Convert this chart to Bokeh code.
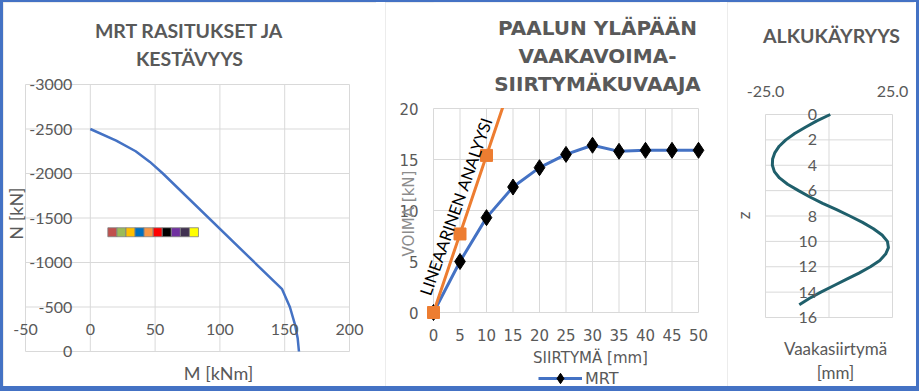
from bokeh.plotting import figure
from bokeh.layouts import row
from bokeh.models import (Range1d, FixedTicker, Label, Legend, LegendItem,
                          LinearAxis, BoxAnnotation)
from bokeh.embed import file_html
from bokeh.resources import INLINE

# ---------------- data ----------------
# Panel 1: MRT rasitukset ja kestävyys
m_curve = [0, 20, 35, 46, 56, 148, 154, 158, 160, 161]
n_curve = [-2500, -2370, -2250, -2130, -2000, -700, -500, -300, -150, 0]
load_m = [17, 24, 31, 38, 45, 52, 59, 66, 73, 80]
load_n = [-1340, -1340, -1340, -1340, -1340, -1340, -1340, -1340, -1340, -1340]
load_colors = ["#c0504d", "#9bbb59", "#ffc000", "#0070c0", "#f79646",
               "#ff0000", "#000000", "#7030a0", "#403151", "#ffff00"]
m_ticks = [-50, 0, 50, 100, 150, 200]
m_labels = ["-50", "0", "50", "100", "150", "200"]
n_ticks = [-3000, -2500, -2000, -1500, -1000, -500, 0]
n_labels = ["-3000", "-2500", "-2000", "-1500", "-1000", "-500", "0"]

# Panel 2: vaakavoima-siirtymä
disp_mrt = [0, 5, 10, 15, 20, 25, 30, 35, 40, 45, 50]
force_mrt = [0, 5.0, 9.3, 12.3, 14.2, 15.5, 16.4, 15.8, 15.9, 15.9, 15.9]
disp_lin = [0, 5, 10, 15]
force_lin = [0, 7.7, 15.4, 23.1]
s_ticks = [0, 5, 10, 15, 20, 25, 30, 35, 40, 45, 50]
s_labels = ["0", "5", "10", "15", "20", "25", "30", "35", "40", "45", "50"]
f_ticks = [0, 5, 10, 15, 20]
f_labels = ["0", "5", "10", "15", "20"]

# Panel 3: alkukäyryys
depth = [0, 0.5, 1, 1.5, 2, 2.5, 3, 3.5, 4, 4.5, 5, 5.5, 6, 6.5, 7, 7.5,
         8, 8.5, 9, 9.5, 10, 10.5, 11, 11.5, 12, 12.5, 13, 13.5, 14, 14.5, 15]
dev = [0.5, -4.8, -9.3, -13.5, -17.0, -19.6, -21.3, -22.2, -22.3, -21.5, -19.5,
       -16.3, -12.0, -7.5, -2.5, 3.0, 8.2, 13.2, 17.5, 20.9, 23.0, 23.4, 22.3,
       20.0, 16.3, 11.8, 6.8, 1.8, -3.2, -7.8, -11.7]
d_ticks = [-25, 25]
d_labels = ["-25.0", "25.0"]
d_grid = [-25, 0, 25]
z_ticks = [0, 2, 4, 6, 8, 10, 12, 14, 16]
z_labels = ["0", "2", "4", "6", "8", "10", "12", "14", "16"]

GRID = "#d9d9d9"
TXT = "#595959"
PANEL_STYLE = {"outline": "1px solid #d9d9d9", "outline-offset": "-1px"}


def ranges(ox, oy, w, h, L, R, T, B, x0, x1, y0, y1):
    """Ranges so that x0..x1 / y0..y1 land on the plot-area pixels L..R / B..T
    of a figure whose canvas starts at (ox, oy) with size w x h."""
    kx = (R - L) / (x1 - x0)
    ky = (B - T) / (y1 - y0)
    return (Range1d(x0 - (L - ox) / kx, x1 + (ox + w - R) / kx),
            Range1d(y0 - (oy + h - B) / ky, y1 + (T - oy) / ky))


def make_fig(w, h, xr, yr):
    p = figure(width=w, height=h, x_range=xr, y_range=yr, output_backend="svg",
               toolbar_location=None, title=None, x_axis_location=None,
               y_axis_location=None, min_border=0, frame_align=False,
               styles=PANEL_STYLE)
    p.outline_line_color = None
    p.background_fill_color = "white"
    p.border_fill_color = "white"
    p.xgrid.visible = False
    p.ygrid.visible = False
    return p


def axis(p, side, loc, ticks, labels, standoff, font, size):
    ax = LinearAxis(fixed_location=loc, ticker=FixedTicker(ticks=ticks),
                    major_label_overrides=dict(zip(ticks, labels)),
                    axis_line_color=None, major_tick_line_color=None,
                    minor_tick_line_color=None, major_tick_in=0, major_tick_out=0,
                    major_label_standoff=standoff, major_label_text_color=TXT,
                    major_label_text_font=font, major_label_text_font_size=size)
    p.add_layout(ax, side)


def grid(p, xt, yt):
    n = len(xt)
    p.segment(x0=xt, y0=[min(yt)] * n, x1=xt, y1=[max(yt)] * n,
              line_color=GRID, line_width=1)
    m = len(yt)
    p.segment(x0=[min(xt)] * m, y0=yt, x1=[max(xt)] * m, y1=yt,
              line_color=GRID, line_width=1)


def lab(p, geo, gx, gy, text, size, color=TXT, bold=False, font="Lato", angle=0):
    ox, oy, h = geo
    p.add_layout(Label(x=gx - ox, y=oy + h - gy, x_units="screen", y_units="screen",
                       text=text, text_font=font, text_font_size=f"{size}px",
                       text_color=color,
                       text_font_style="bold" if bold else "normal",
                       text_align="center", text_baseline="middle",
                       angle=angle, angle_units="deg"))


H = 384
# ---------------- panel 1 ----------------
G1 = (3, 2, H)
xr1, yr1 = ranges(3, 2, 373, H, 25, 349, 84, 351, -50, 200, 0, -3000)
p1 = make_fig(373, H, xr1, yr1)
grid(p1, m_ticks, n_ticks)
axis(p1, "above", 0, m_ticks, m_labels, 17, "Lato", "16px")
axis(p1, "left", 0, n_ticks, n_labels, 18, "Lato", "16px")
p1.line(m_curve, n_curve, line_color="#4472c4", line_width=2.5)
p1.scatter(load_m, load_n, marker="square", size=9, fill_color=load_colors,
           line_color="#7f7f7f", line_width=0.8)
lab(p1, G1, 189, 30, "MRT RASITUKSET JA", 19.5, bold=True)
lab(p1, G1, 189, 58, "KESTÄVYYS", 19.5, bold=True)
lab(p1, G1, 15, 213, "N [kN]", 18, angle=90)
lab(p1, G1, 218, 372, "M [kNm]", 18)

# ---------------- panel 2 ----------------
G2 = (385, 2, H)
xr2, yr2 = ranges(385, 2, 335, H, 433, 698, 108, 312, 0, 50, 0, 20)
p2 = make_fig(335, H, xr2, yr2)
grid(p2, s_ticks, f_ticks)
axis(p2, "below", 0, s_ticks, s_labels, 16, "DejaVu Sans", "15px")
axis(p2, "left", 0, f_ticks, f_labels, 15, "DejaVu Sans", "15px")
r_line = p2.line(disp_mrt, force_mrt, line_color="#4472c4", line_width=3)
r_pts = p2.scatter(disp_mrt, force_mrt, marker="diamond", size=16,
                   fill_color="black", line_color="black")
p2.line(disp_lin, force_lin, line_color="#ed7d31", line_width=3)
p2.scatter(disp_lin, force_lin, marker="square", size=12,
           fill_color="#ed7d31", line_color="#ed7d31")
# the value axis stops at 20: hide what lies above it
p2.add_layout(BoxAnnotation(bottom=max(f_ticks) + 0.05, left=min(s_ticks),
                            fill_color="white", fill_alpha=1, line_color=None))
p2.add_layout(Label(x=4.3, y=10.4, text="LINEAARINEN ANALYYSI", text_font="Lato",
                    text_font_size="16.5px", text_color="black", text_align="center",
                    text_baseline="middle", angle=70.6, angle_units="deg"))
lab(p2, G2, 597, 27, "PAALUN YLÄPÄÄN", 20, bold=True, font="DejaVu Sans")
lab(p2, G2, 597, 55, "VAAKAVOIMA-", 20, bold=True, font="DejaVu Sans")
lab(p2, G2, 597, 83, "SIIRTYMÄKUVAAJA", 20, bold=True, font="DejaVu Sans")
lab(p2, G2, 408, 213, "VOIMA [kN]", 15, color="#8c8c8c", font="DejaVu Sans", angle=90)
lab(p2, G2, 590, 357, "SIIRTYMÄ [mm]", 15, font="DejaVu Sans")
legend = Legend(items=[LegendItem(label="MRT", renderers=[r_line, r_pts])],
                location=(538 - 385, -5), border_line_color=None,
                background_fill_alpha=0, padding=0, margin=0, spacing=0,
                glyph_width=44, glyph_height=26, label_standoff=3,
                label_text_font="DejaVu Sans", label_text_font_size="16px",
                label_text_color=TXT)
p2.add_layout(legend)

# ---------------- panel 3 ----------------
G3 = (727, 2, H)
xr3, yr3 = ranges(727, 2, 187, H, 765, 892, 114, 317, -25, 25, 16, 0)
p3 = make_fig(187, H, xr3, yr3)
grid(p3, d_grid, z_ticks)
axis(p3, "above", 0, d_ticks, d_labels, 18, "Lato", "16px")
axis(p3, "left", 0, z_ticks, z_labels, 12, "Lato", "16px")
p3.line(dev, depth, line_color="#1f5f6b", line_width=3)
lab(p3, G3, 831, 35, "ALKUKÄYRYYS", 19.5, bold=True)
lab(p3, G3, 743, 215, "z", 17, angle=90)
lab(p3, G3, 835, 348, "Vaakasiirtymä", 17)
lab(p3, G3, 835, 372, "[mm]", 17)

p2.margin = (0, 0, 0, 9)
p3.margin = (0, 2, 0, 7)

inner = row(p1, p2, p3, spacing=0, margin=(2, 3, 5, 3),
            styles={"background-color": "white"})
outer = row(inner, spacing=0, styles={"background-color": "#4472c4"})

open("out.html", "w").write(file_html(outer, INLINE, title="chart"))
